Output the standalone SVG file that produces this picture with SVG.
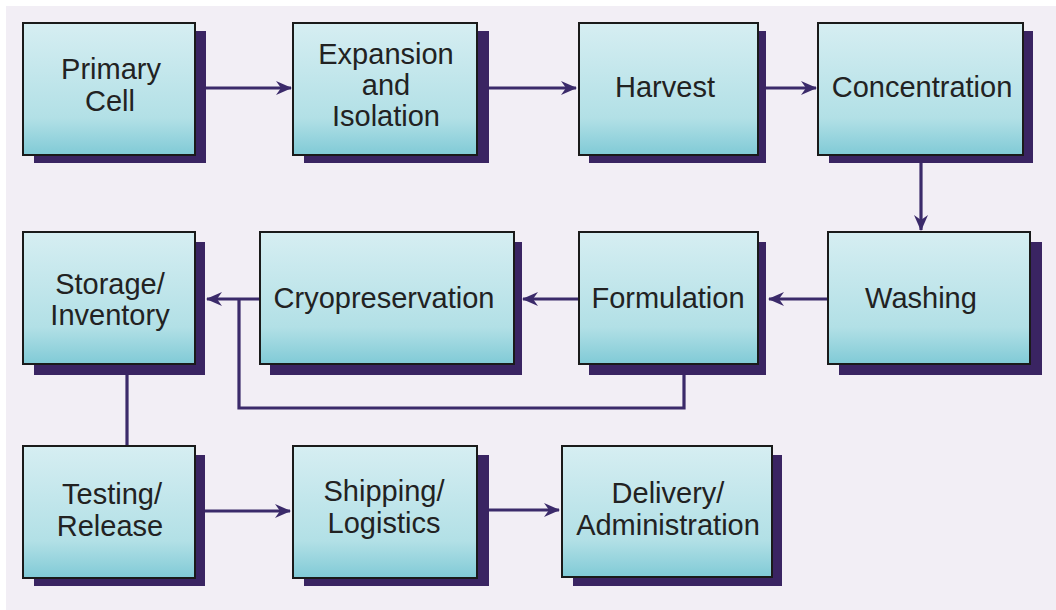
<svg xmlns="http://www.w3.org/2000/svg" width="1056" height="610" viewBox="0 0 1056 610">
<defs>
<linearGradient id="g" x1="0" y1="0" x2="0" y2="1">
<stop offset="0" stop-color="#d6eef2"/>
<stop offset="0.72" stop-color="#b2e0e6"/>
<stop offset="1" stop-color="#80cad6"/>
</linearGradient>
<marker id="ah" markerUnits="userSpaceOnUse" markerWidth="18" markerHeight="16" viewBox="-16 -8 18 16" refX="0" refY="0" orient="auto">
<path d="M1,0 L-15,-7 L-10,0 L-15,7 Z" fill="#3b2a6a"/>
</marker>
<style>
.sh{fill:#3a2462}
.bx{fill:url(#g);stroke:#1a1a1a;stroke-width:2}
.t{font-family:"Liberation Sans",Arial,sans-serif;font-size:29px;fill:#222;text-anchor:middle}
.c{fill:none;stroke:#3b2a6a;stroke-width:3.2}
</style>
</defs>
<rect x="0" y="0" width="1056" height="610" fill="#ffffff"/>
<rect x="6" y="6" width="1050" height="604" fill="#f2eef5"/>

<g id="connectors">
<line class="c" x1="205" y1="88" x2="291" y2="88" marker-end="url(#ah)"/>
<line class="c" x1="489" y1="88" x2="576" y2="88" marker-end="url(#ah)"/>
<line class="c" x1="766" y1="88" x2="816" y2="88" marker-end="url(#ah)"/>
<line class="c" x1="921" y1="163" x2="921" y2="230" marker-end="url(#ah)"/>
<line class="c" x1="828" y1="299" x2="769" y2="299" marker-end="url(#ah)"/>
<line class="c" x1="579" y1="299" x2="523" y2="299" marker-end="url(#ah)"/>
<line class="c" x1="260" y1="299" x2="207" y2="299" marker-end="url(#ah)"/>
<polyline class="c" points="684,375 684,408 239,408 239,299"/>
<line class="c" x1="127" y1="375" x2="127" y2="446"/>
<line class="c" x1="205" y1="511" x2="290" y2="511" marker-end="url(#ah)"/>
<line class="c" x1="489" y1="510" x2="559" y2="510" marker-end="url(#ah)"/>
</g>

<g id="primary-cell">
<rect class="sh" x="34" y="31" width="172" height="132"/>
<rect class="bx" x="23" y="23" width="172" height="132"/>
<text class="t" x="111" y="79">Primary</text>
<text class="t" x="110" y="111">Cell</text>
</g>
<g id="expansion-isolation">
<rect class="sh" x="304" y="31" width="185" height="132"/>
<rect class="bx" x="293" y="23" width="184" height="132"/>
<text class="t" x="386" y="64">Expansion</text>
<text class="t" x="386" y="95">and</text>
<text class="t" x="386" y="126">Isolation</text>
</g>
<g id="harvest">
<rect class="sh" x="589" y="31" width="177" height="132"/>
<rect class="bx" x="579" y="23" width="179" height="132"/>
<text class="t" x="665" y="97">Harvest</text>
</g>
<g id="concentration">
<rect class="sh" x="829" y="31" width="204" height="132"/>
<rect class="bx" x="818" y="23" width="205" height="132"/>
<text class="t" x="922" y="97">Concentration</text>
</g>
<g id="washing">
<rect class="sh" x="839" y="242" width="203" height="133"/>
<rect class="bx" x="828" y="232" width="202" height="132"/>
<text class="t" x="921" y="308">Washing</text>
</g>
<g id="formulation">
<rect class="sh" x="589" y="242" width="177" height="133"/>
<rect class="bx" x="579" y="232" width="179" height="132"/>
<text class="t" x="668" y="308">Formulation</text>
</g>
<g id="cryopreservation">
<rect class="sh" x="270" y="242" width="252" height="133"/>
<rect class="bx" x="260" y="232" width="254" height="132"/>
<text class="t" x="384" y="308">Cryopreservation</text>
</g>
<g id="storage-inventory">
<rect class="sh" x="34" y="242" width="171" height="133"/>
<rect class="bx" x="23" y="232" width="172" height="132"/>
<text class="t" x="110" y="294">Storage/</text>
<text class="t" x="110" y="325">Inventory</text>
</g>
<g id="testing-release">
<rect class="sh" x="34" y="455" width="171" height="131"/>
<rect class="bx" x="23" y="446" width="172" height="132"/>
<text class="t" x="112" y="504">Testing/</text>
<text class="t" x="110" y="536">Release</text>
</g>
<g id="shipping-logistics">
<rect class="sh" x="304" y="455" width="185" height="131"/>
<rect class="bx" x="293" y="446" width="184" height="132"/>
<text class="t" x="384" y="501">Shipping/</text>
<text class="t" x="384" y="533">Logistics</text>
</g>
<g id="delivery-administration">
<rect class="sh" x="573" y="455" width="209" height="131"/>
<rect class="bx" x="562" y="446" width="210" height="131"/>
<text class="t" x="668" y="503">Delivery/</text>
<text class="t" x="668" y="535">Administration</text>
</g>
</svg>
